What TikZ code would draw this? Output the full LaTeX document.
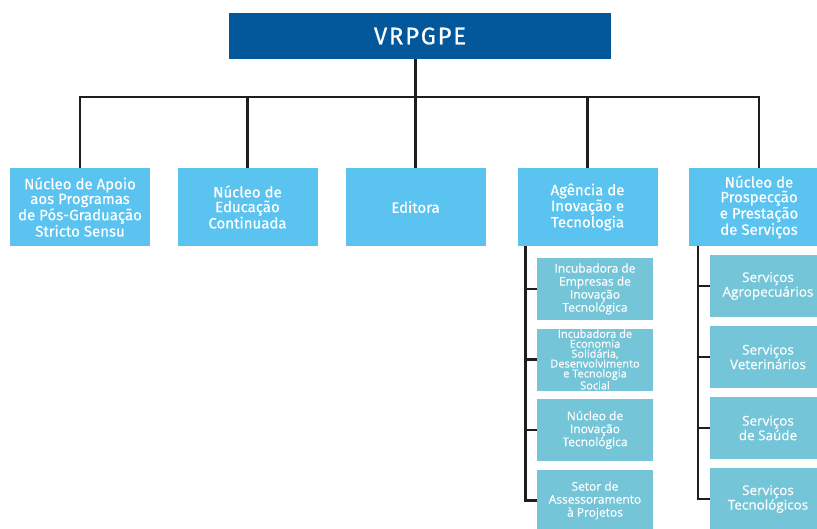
\documentclass[tikz,border=0pt]{standalone}
\usepackage{fontspec}
\setmainfont{Fira Sans}[FakeBold=0.4]
\newfontfamily\subfont{Open Sans}[FakeBold=0.3]
\usepackage{tikz}
\usetikzlibrary{positioning}

\definecolor{azulescuro}{HTML}{02589A}
\definecolor{azulclaro}{HTML}{5BC3EF}
\definecolor{azulsub}{HTML}{74C5D8}
\definecolor{linha}{HTML}{1E1E1E}

\begin{document}
\begin{tikzpicture}[x=1pt,y=-1pt]
        \tikzstyle{topo} = [fill=azulescuro, text=white, minimum width=382pt, minimum height=46pt, inner sep=0pt, font=\fontsize{24}{26}\selectfont\addfontfeature{LetterSpace=7}]
        \tikzstyle{nucleo} = [fill=azulclaro, text=white, minimum width=140pt, minimum height=78pt, inner sep=0pt, align=center, font=\fontsize{15}{14.7}\selectfont]
        \tikzstyle{sub} = [fill=azulsub, text=white, minimum width=116pt, minimum height=62pt, inner sep=0pt, align=center, font=\subfont\fontsize{12}{13}\selectfont]
        \tikzstyle{servico} = [sub, font=\subfont\fontsize{13.5}{12.5}\selectfont]
        \tikzstyle{link} = [draw=linha, line width=2.4pt]

        \useasboundingbox (0,0) rectangle (817,528);
        \clip (0,0) rectangle (817,528);

        % Vice-reitoria
        \node[topo](vr) at (420, 36) {VRPGPE};

        % Nucleos
        \node[nucleo](n1) at (80, 207) {N\'ucleo de Apoio\\aos Programas\\de P\'os-Gradua\c{c}\~ao\\Stricto Sensu};
        \node[nucleo](n2) at (247.5, 207) {N\'ucleo de\\Educa\c{c}\~ao\\Continuada};
        \node[nucleo](n3) at (415.5, 207) {Editora};
        \node[nucleo](n4) at (587.5, 207) {Ag\^encia de\\Inova\c{c}\~ao e\\Tecnologia};
        \node[nucleo](n5) at (759, 207) {N\'ucleo de\\Prospec\c{c}\~ao\\e Presta\c{c}\~ao\\de Servi\c{c}os};

        % Agencia de Inovacao
        \node[sub](a1) at (595, 289) {Incubadora de\\Empresas de\\Inova\c{c}\~ao\\Tecnol\'ogica};
        \node[sub, font=\subfont\fontsize{11}{9.9}\selectfont](a2) at (595, 359.5) {Incubadora de\\Economia\\Solid\'aria,\\Desenvolvimento\\e Tecnologia\\Social};
        \node[sub](a3) at (595, 430) {N\'ucleo de\\Inova\c{c}\~ao\\Tecnol\'ogica};
        \node[sub](a4) at (595, 500.5) {Setor de\\Assessoramento\\\`a Projetos};

        % Prestacao de servicos
        \node[servico](s1) at (768, 286) {Servi\c{c}os\\Agropecu\'arios};
        \node[servico](s2) at (768, 357) {Servi\c{c}os\\Veterin\'arios};
        \node[servico](s3) at (768, 428) {Servi\c{c}os\\de Sa\'ude};
        \node[servico](s4) at (768, 499) {Servi\c{c}os\\Tecnol\'ogicos};

        % Barramento
        \coordinate (bus) at (415.5, 97);
        \coordinate (a0) at ([xshift=8pt]n4.south west);
        \coordinate (s0) at ([xshift=9pt]n5.south west);

        \draw[link] (n3.north |- vr.south) -- (bus);
        \draw[link, line cap=rect] (n1.north |- bus) -- (n5.north |- bus);
        \foreach \i in {1,2,3,4,5}
            \draw[link] (n\i.north |- bus) -- (n\i.north);

        % Ramos
        \foreach \i in {1,2,3,4}
            \draw[link] (a\i.west) -| (a0);
        \foreach \i in {1,2,3,4}
            \draw[link] (s\i.west) -| (s0);
    \end{tikzpicture}
\end{document}
